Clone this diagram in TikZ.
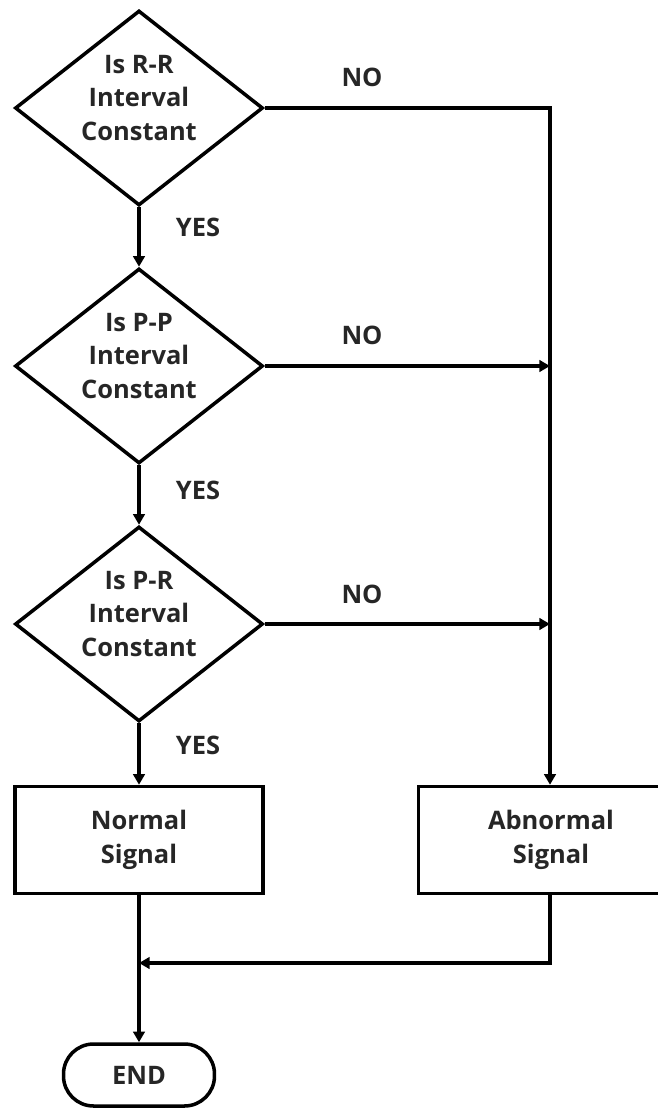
\documentclass[tikz,border=0pt]{standalone}
\usepackage{fontspec}
\setmainfont{Open Sans}
\usetikzlibrary{shapes.geometric,arrows.meta}

\begin{document}
\begin{tikzpicture}[x=0.02cm,y=-0.02cm,
	line width=1.8pt,>={Triangle[length=6pt,width=6.5pt]},
	every node/.style = {font=\bfseries\fontsize{14.5}{19.3}\selectfont, text=black!85},
	decision/.style = {diamond,draw,line width=2pt,inner sep=0pt,minimum width=4.96cm,minimum height=3.9cm},
	block/.style = {rectangle,draw,line width=2pt,minimum width=4.96cm,minimum height=2.14cm,align=center},
	endbox/.style = {rectangle,rounded corners=0.6cm,draw,line width=2pt,minimum width=3.02cm,minimum height=1.24cm},
	qtext/.style = {align=center}]
	\useasboundingbox (0,0) rectangle (658,1108);
	\clip (0,0) rectangle (658,1108);

	% the three checks
	\node[decision] (rr) at (139,108) {};
	\node[qtext] (rrtxt) at (139,98) {Is R-R\\Interval\\Constant};
	\node[decision] (pp) at (139,366) {};
	\node[qtext] (pptxt) at (139,356) {Is P-P\\Interval\\Constant};
	\node[decision] (pr) at (139,624) {};
	\node[qtext] (prtxt) at (139,614) {Is P-R\\Interval\\Constant};

	% results
	\node[block] (normal) at (139,840) {Normal\\Signal};
	\node[block,minimum width=5.3cm] (abnormal) at (551,840) {Abnormal\\Signal};
	\node[endbox] (end) at (139,1075) {END};

	\coordinate (c1) at (550,108);
	\coordinate (c2) at (550,366);
	\coordinate (c3) at (550,624);
	\coordinate (c4) at (550,963);
	\coordinate (c5) at (139,963);

	% yes branch
	\draw[->] (rr.south) -- (pp.north);
	\draw[->] (pp.south) -- (pr.north);
	\draw[->] (pr.south) -- (normal.north);
	\draw[->] (normal.south) -- (end.north);

	% no branch
	\draw[->] (rr.east) -- (c1) -- (abnormal.north -| c1);
	\draw[->] (pp.east) -- (c2);
	\draw[->] (pr.east) -- (c3);
	\draw[->] (abnormal.south -| c4) -- (c4) -- (c5);

	\node (yes1) at (198,227) {YES};
	\node (yes2) at (198,490) {YES};
	\node (yes3) at (198,745) {YES};
	\node (no1) at (362,77) {NO};
	\node (no2) at (362,335) {NO};
	\node (no3) at (362,594) {NO};
\end{tikzpicture}
\end{document}
